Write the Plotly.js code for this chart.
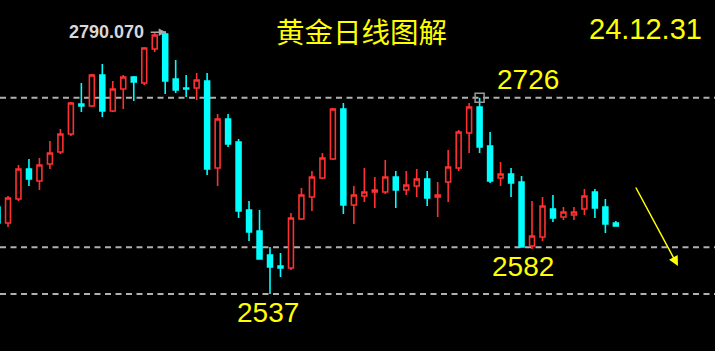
<!DOCTYPE html>
<html>
<head>
<meta charset="utf-8">
<script src="https://cdn.plot.ly/plotly-3.0.1.min.js"></script>
<style>html,body{margin:0;padding:0;background:#000;}#chart{width:715px;height:351px;}</style>
</head>
<body>
<div id="chart"></div>
<script>
// Daily gold candles (first one partly off-screen)
const openP  = [2620.8,2605.3,2628.5,2657.3,2645.8,2662.2,2673.7,2691.0,2719.9,2718.0,2747.9,2713.2,2734.4,2745.9,2740.2,2772.9,2787.3,2744.0,2735.3,2735.3,2742.1,2658.3,2705.5,2683.3,2617.9,2597.6,2574.5,2563.9,2562.0,2609.2,2630.4,2648.7,2667.0,2715.1,2622.7,2631.3,2635.2,2635.2,2649.6,2637.1,2641.0,2647.7,2630.4,2644.8,2658.3,2692.0,2717.1,2679.5,2648.7,2652.5,2644.8,2583.2,2591.9,2618.8,2611.1,2613.0,2618.8,2635.2,2620.8,2605.3];
const highP  = [2622.7,2631.3,2661.2,2667.0,2667.9,2684.3,2695.9,2721.9,2740.2,2748.8,2758.5,2742.1,2747.9,2746.9,2774.8,2788.3,2790.07,2762.3,2747.9,2749.8,2749.8,2710.3,2710.3,2686.2,2626.5,2617.9,2582.2,2576.5,2615.0,2639.0,2655.4,2672.8,2716.1,2720.9,2641.0,2658.3,2649.6,2666.0,2655.4,2655.4,2657.3,2655.4,2644.8,2675.6,2694.9,2720.9,2726.0,2693.0,2664.1,2658.3,2650.6,2626.5,2630.4,2632.3,2620.8,2620.8,2638.1,2638.1,2628.5,2607.3];
const lowP   = [2603.4,2601.5,2626.5,2641.0,2637.1,2657.3,2671.8,2689.1,2712.2,2717.1,2707.4,2712.2,2715.1,2722.8,2738.2,2770.0,2729.6,2730.5,2726.7,2723.8,2651.6,2641.0,2678.5,2610.2,2588.0,2570.0,2537.0,2553.3,2560.1,2608.2,2616.9,2647.7,2666.0,2614.0,2604.4,2625.6,2619.8,2633.3,2619.8,2632.3,2630.4,2621.7,2611.1,2625.6,2655.4,2672.8,2672.8,2643.9,2641.0,2630.4,2582.0,2580.3,2588.0,2606.3,2608.2,2608.2,2613.0,2610.2,2595.7,2602.5];
const closeP = [2605.3,2629.4,2657.3,2647.7,2661.2,2672.8,2691.0,2720.9,2718.0,2747.9,2713.2,2734.4,2745.9,2741.1,2773.9,2786.4,2742.1,2733.4,2734.4,2743.1,2657.3,2705.5,2681.4,2616.9,2596.7,2570.7,2563.0,2562.0,2610.2,2632.3,2649.6,2667.9,2715.1,2622.7,2632.3,2635.2,2637.1,2649.6,2637.1,2641.9,2647.7,2629.4,2632.3,2659.3,2693.0,2717.1,2678.5,2645.8,2652.5,2643.9,2582.2,2592.8,2621.7,2610.2,2615.9,2615.9,2631.3,2619.8,2604.4,2602.5];

const levels = [2726, 2582, 2537];
const levelLabels = ['2726', '2582', '2537'];
const maxLabel = '2790.070';
const titleText = '黄金日线图解';
const dateText = '24.12.31';

const xs = openP.map((_, i) => i - 1);
const hiIdx = highP.indexOf(Math.max(...highP));
const peakIdx = highP.indexOf(2726.0);
const lowIdx = lowP.indexOf(Math.min(...lowP));
const supIdx = lowP.indexOf(2582.0);

const candles = {
  type: 'candlestick',
  x: xs, open: openP, high: highP, low: lowP, close: closeP,
  increasing: {line: {color: '#ff3030', width: 1.6}, fillcolor: '#000000'},
  decreasing: {line: {color: '#00ffff', width: 1.6}, fillcolor: '#00ffff'},
  whiskerwidth: 0,
  hoverinfo: 'skip',
  showlegend: false
};
const marker = {
  type: 'scatter', mode: 'markers',
  x: [xs[peakIdx]], y: [highP[peakIdx]],
  marker: {symbol: 'square-open', size: 9, color: '#9a9a9a', line: {width: 1.5}},
  hoverinfo: 'skip', showlegend: false
};

const yellow = '#ffff00';
const numFont = {family: 'Liberation Sans, Arial, sans-serif', size: 28, color: yellow};

const layout = {
  width: 715, height: 351,
  margin: {l: 0, r: 0, t: 0, b: 0},
  paper_bgcolor: '#000', plot_bgcolor: '#000',
  showlegend: false,
  boxgap: 0.33,
  xaxis: {range: [-0.763, 67.46], visible: false, rangeslider: {visible: false}, fixedrange: true},
  yaxis: {range: [2482.1, 2820.09], visible: false, fixedrange: true},
  shapes: levels.map(v => ({
    type: 'line', xref: 'paper', x0: 0, x1: 1, yref: 'y', y0: v, y1: v,
    line: {color: '#b0b0b0', width: 2, dash: '6px,4.5px'}, layer: 'below'
  })),
  annotations: [
    {xref: 'paper', yref: 'paper', x: 361/715, y: 1 - 31/351, xanchor: 'center', yanchor: 'middle',
     text: titleText, showarrow: false,
     font: {family: 'Noto Sans CJK SC, sans-serif', size: 28.5, color: yellow}},
    {xref: 'paper', yref: 'paper', x: 645/715, y: 1 - 29/351, xanchor: 'center', yanchor: 'middle',
     text: dateText, showarrow: false, font: {family: 'Liberation Sans, Arial, sans-serif', size: 29, color: yellow}},
    {x: xs[peakIdx], y: levels[0], text: levelLabels[0], showarrow: false, xshift: 48, yshift: 18, font: numFont},
    {x: xs[supIdx], y: levels[1], text: levelLabels[1], showarrow: false, xshift: 1, yshift: -19, font: numFont},
    {x: xs[lowIdx], y: levels[2], text: levelLabels[2], showarrow: false, xshift: -2, yshift: -19, font: numFont},
    {x: xs[hiIdx], y: highP[hiIdx], xanchor: 'right', yanchor: 'middle', text: maxLabel, showarrow: false,
     xshift: -19, yshift: -1,
     font: {family: 'Liberation Sans, Arial, sans-serif', size: 18, color: '#d8d8d8', weight: 'bold'}},
    {x: xs[hiIdx], y: highP[hiIdx], ax: -17, ay: 0, xshift: 1, yshift: -1, text: '',
     showarrow: true, arrowhead: 2, arrowsize: 1, arrowwidth: 1.5, arrowcolor: '#a8a8a8', standoff: 0},
    {xref: 'paper', yref: 'paper', x: 678/715, y: 1 - 266/351, ax: -43, ay: -80, text: '',
     showarrow: true, arrowhead: 2, arrowsize: 1.3, arrowwidth: 1.5, arrowcolor: yellow}
  ]
};

Plotly.newPlot('chart', [candles, marker], layout, {staticPlot: true, displayModeBar: false});
</script>
</body>
</html>
